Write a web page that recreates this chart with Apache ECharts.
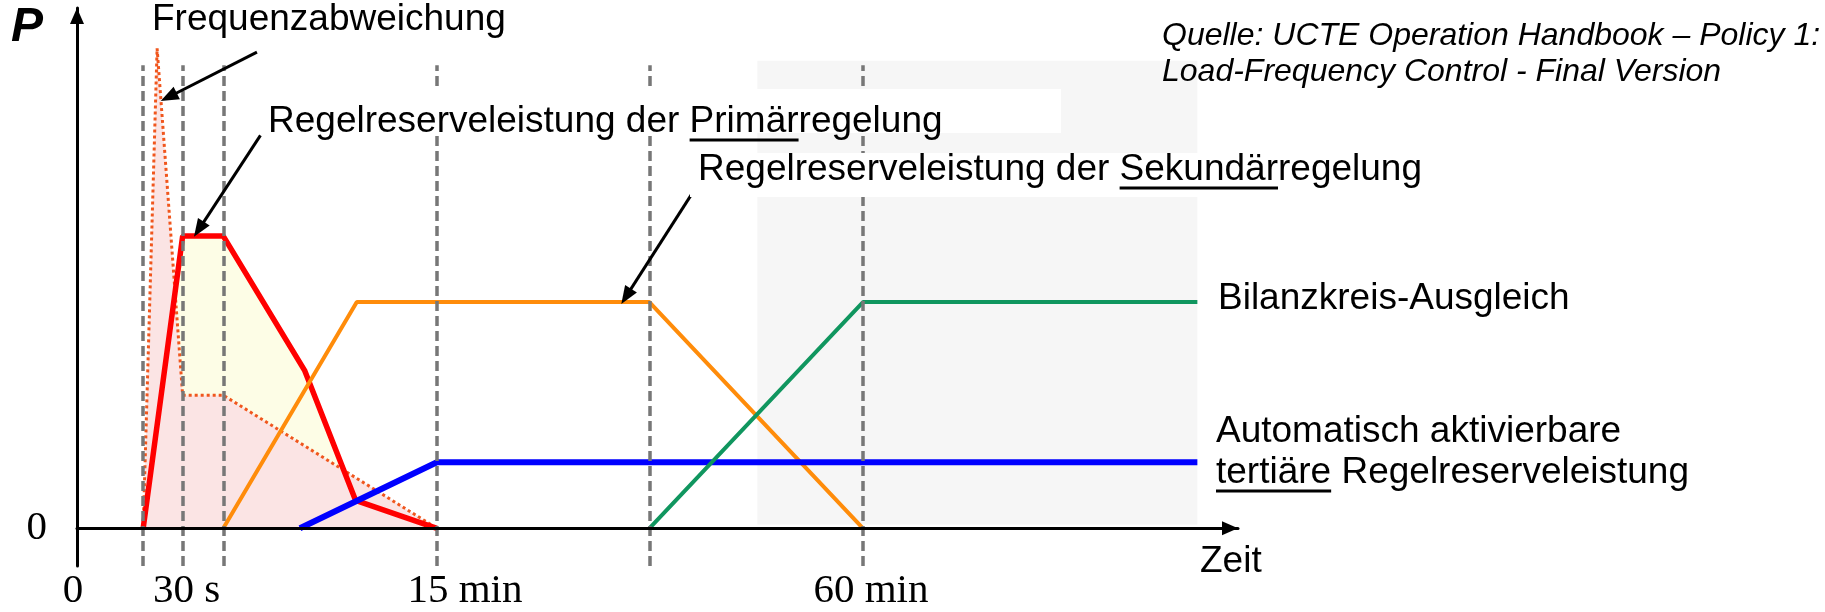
<!DOCTYPE html>
<html>
<head>
<meta charset="utf-8">
<script src="https://cdn.jsdelivr.net/npm/echarts@6/dist/echarts.min.js"></script>
<style>
  html, body { margin: 0; padding: 0; background: #fff; }
  #regelleistung { width: 1825px; height: 612px; }
</style>
</head>
<body>
<div id="regelleistung"></div>
<script>
// schematische Zeitachse (0 .. 100), Leistung P in relativen Einheiten
var zeitLinien = [5.7, 9.1, 12.6, 31.0, 49.3, 67.7];
var achsenWerte = [0, 9.1, 31.0, 67.7];
var achsenTexte = ['0', '30 s', '15 min', '60 min'];

var frequenzabweichung = [[5.7, 0], [6.9, 127.3], [9.1, 35.3], [12.6, 35.3], [31.0, 0]];
var primaerregelung = [[5.7, 0], [9.1, 77.5], [12.6, 77.5], [19.6, 41.9], [24.0, 7.4], [31.0, 0]];
var sekundaerregelung = [[12.6, 0], [24.1, 60], [49.3, 60], [67.7, 0]];
var tertiaerregelung = [[19.2, 0], [31.0, 17.5], [96.5, 17.5]];
var bilanzkreis = [[49.3, 0], [67.7, 60], [96.5, 60]];

var bilanzZone = [[58.6, 1], [96.5, 124]];
var hinweisPfeile = [
    [[15.5, 126.3], [7.9, 114.4]],
    [[15.8, 104.2], [10.5, 79.3]],
    [[53.0, 88.9], [47.3, 61.5]]
];

var sans = '"Liberation Sans", Arial, sans-serif';
var serif = '"Liberation Serif", "Times New Roman", serif';

var messCtx = document.createElement('canvas').getContext('2d');
function breite(text, groesse) {
    messCtx.font = groesse + 'px ' + sans;
    return messCtx.measureText(text).width;
}

// Text an Grundlinie ausrichten (middle liegt ca. 0.35em ueber der Grundlinie)
function beschriftung(text, x, grundlinie, groesse, extra) {
    var style = {
        text: text,
        x: x,
        y: grundlinie - 0.35 * groesse,
        fontSize: groesse,
        fontFamily: sans,
        fill: '#000',
        align: 'left',
        verticalAlign: 'middle'
    };
    if (extra) {
        for (var k in extra) style[k] = extra[k];
    }
    return { type: 'text', z: 8, silent: true, style: style };
}

function unterstrich(vorher, wort, x, grundlinie, groesse) {
    var x1 = x + breite(vorher, groesse);
    var x2 = x1 + breite(wort, groesse);
    return {
        type: 'line', z: 8, silent: true,
        shape: { x1: x1, y1: grundlinie + 5, x2: x2, y2: grundlinie + 5 },
        style: { stroke: '#000', lineWidth: 3 }
    };
}

var mychart = echarts.init(document.getElementById('regelleistung'));

var option = {
    animation: false,
    backgroundColor: '#fff',
    grid: { left: 77, right: 587, top: 8, bottom: 46 },
    xAxis: {
        type: 'value',
        min: 0,
        max: 100,
        z: 5,
        splitLine: { show: false },
        axisTick: { show: false },
        axisLabel: { show: false },
        axisLine: {
            onZero: true,
            lineStyle: { color: '#000', width: 3 },
            symbol: ['none', 'triangle'],
            symbolSize: [14, 16],
            symbolOffset: [0, -8]
        }
    },
    yAxis: {
        type: 'value',
        min: -10,
        max: 138,
        z: 5,
        splitLine: { show: false },
        axisTick: { show: false },
        axisLine: {
            onZero: false,
            lineStyle: { color: '#000', width: 3 },
            symbol: ['none', 'triangle'],
            symbolSize: [14, 16],
            symbolOffset: [0, -8]
        },
        axisLabel: {
            customValues: [0],
            formatter: function () { return '0'; },
            color: '#000',
            fontFamily: serif,
            fontSize: 41,
            margin: 30
        }
    },
    series: [
        {
            name: 'Bilanzzone',
            type: 'line',
            data: [],
            z: 0,
            markArea: {
                silent: true,
                itemStyle: { color: '#f6f6f6' },
                label: { show: false },
                data: [[{ coord: bilanzZone[0] }, { coord: bilanzZone[1] }]]
            }
        },
        {
            name: 'Primärregelung Fläche',
            type: 'line',
            data: primaerregelung,
            z: 2,
            silent: true,
            showSymbol: false,
            lineStyle: { width: 0 },
            areaStyle: { color: '#fdfde6', opacity: 1 }
        },
        {
            name: 'Frequenzabweichung',
            type: 'line',
            data: frequenzabweichung,
            z: 3,
            silent: true,
            showSymbol: false,
            lineStyle: { color: '#f0561d', width: 3, type: 'dotted' },
            areaStyle: { color: '#fbe4e4', opacity: 1 }
        },
        {
            name: 'Primärregelung',
            type: 'line',
            data: primaerregelung,
            z: 4,
            silent: true,
            showSymbol: false,
            lineStyle: { color: '#ff0000', width: 5.5 }
        },
        {
            name: 'Sekundärregelung',
            type: 'line',
            data: sekundaerregelung,
            z: 4,
            silent: true,
            showSymbol: false,
            lineStyle: { color: '#ff8c0a', width: 4 }
        },
        {
            name: 'Tertiärregelung',
            type: 'line',
            data: tertiaerregelung,
            z: 4,
            silent: true,
            showSymbol: false,
            lineStyle: { color: '#0000ff', width: 6 }
        },
        {
            name: 'Bilanzkreis-Ausgleich',
            type: 'line',
            data: bilanzkreis,
            z: 4,
            silent: true,
            showSymbol: false,
            lineStyle: { color: '#10965f', width: 4 }
        },
        {
            name: 'Zeitmarken',
            type: 'line',
            data: [],
            z: 5,
            markLine: {
                silent: true,
                symbol: ['none', 'none'],
                label: { show: false },
                emphasis: { disabled: true },
                lineStyle: { color: '#777', width: 3.5, type: [10, 5] },
                data: zeitLinien.map(function (x) {
                    return [{ coord: [x, -10] }, { coord: [x, 122.8] }];
                })
            }
        },
        {
            name: 'Hinweise',
            type: 'line',
            data: [],
            z: 7,
            markLine: {
                silent: true,
                symbol: ['none', 'triangle'],
                symbolSize: [14, 18],
                label: { show: false },
                emphasis: { disabled: true },
                lineStyle: { color: '#000', width: 3, type: 'solid' },
                data: hinweisPfeile.map(function (p) {
                    return [{ coord: p[0] }, { coord: p[1] }];
                })
            }
        }
    ]
};

mychart.setOption(option);

// Zeitachsen-Beschriftung unter den Marken (Serifenschrift)
var achsenBeschriftung = achsenWerte.map(function (v, i) {
    var px = mychart.convertToPixel({ gridIndex: 0 }, [v, 0]);
    var versatz = { '0': -4, '30 s': 4, '15 min': 28, '60 min': 8 }[achsenTexte[i]] || 0;
    return {
        type: 'text', z: 8, silent: true,
        style: {
            text: achsenTexte[i],
            x: px[0] + versatz,
            y: px[1] + 77 - 0.34 * 41,
            fontSize: 41,
            fontFamily: serif,
            fill: '#000',
            align: 'center',
            verticalAlign: 'middle'
        }
    };
});

mychart.setOption({
    graphic: {
        elements: [
            { type: 'rect', z: 6, silent: true, shape: { x: 262, y: 89, width: 799, height: 44 }, style: { fill: '#fff' } },
            { type: 'rect', z: 6, silent: true, shape: { x: 690, y: 153, width: 520, height: 44 }, style: { fill: '#fff' } },

            beschriftung('P', 11, 45, 48, { fontWeight: 'bold', fontStyle: 'italic' }),
            beschriftung('Frequenzabweichung', 152, 33, 37),
            beschriftung('Regelreserveleistung der Primärregelung', 268, 135, 37),
            unterstrich('Regelreserveleistung der ', 'Primär', 268, 135, 37),
            beschriftung('Regelreserveleistung der Sekundärregelung', 698, 183, 37),
            unterstrich('Regelreserveleistung der ', 'Sekundär', 698, 183, 37),
            beschriftung('Quelle: UCTE Operation Handbook – Policy 1:', 1162, 47, 32, { fontStyle: 'italic' }),
            beschriftung('Load-Frequency Control - Final Version', 1162, 83, 32, { fontStyle: 'italic' }),
            beschriftung('Bilanzkreis-Ausgleich', 1218, 312, 37),
            beschriftung('Automatisch aktivierbare', 1216, 445, 37),
            beschriftung('tertiäre Regelreserveleistung', 1216, 486, 37),
            unterstrich('', 'tertiäre', 1216, 486, 37),
            beschriftung('Zeit', 1200, 575, 37)
        ].concat(achsenBeschriftung)
    }
});
</script>
</body>
</html>
